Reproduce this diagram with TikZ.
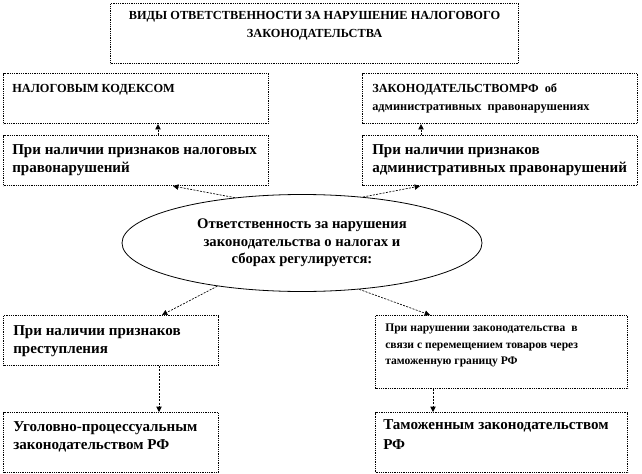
\documentclass[tikz,border=0pt]{standalone}
\usepackage{fontspec}
\setmainfont{Liberation Serif}
\usepackage{tikz}
\usetikzlibrary{arrows.meta,shapes.geometric}
\tikzset{
  frame box/.style n args={2}{
    rectangle, draw=black, dash pattern=on 0.75pt off 0.6pt, line width=0.8pt,
    minimum width=#1, minimum height=#2,
    anchor=north west, inner sep=0pt
  },
  box text/.style={
    anchor=north west, align=left, inner sep=0pt,
    font=\bfseries\fontsize{11.3}{13.8}\selectfont
  },
  small text/.style={font=\bfseries\fontsize{9.25}{13.5}\selectfont},
  link arrow/.style={-{Triangle[length=4pt,width=4pt]},
    dash pattern=on 1.5pt off 1pt, line width=0.5pt}
}

\begin{document}
\begin{tikzpicture}[x=0.75pt, y=-0.75pt]
    \useasboundingbox (0,0) rectangle (642,474);
    % frames
    \node[frame box={306pt}{45pt}] (title) at (110,3) {};
    \node[frame box={198.75pt}{37.5pt}] (kodeks) at (3,73) {};
    \node[frame box={198.75pt}{37.5pt}] (nalog) at (3,135) {};
    \node[frame box={206.25pt}{37.5pt}] (koap) at (362,73) {};
    \node[frame box={206.25pt}{37.5pt}] (admin) at (362,135) {};
    \node[frame box={161.25pt}{37.5pt}] (crime) at (3,315) {};
    \node[frame box={161.25pt}{45pt}] (upk) at (3,412) {};
    \node[frame box={189pt}{54.75pt}] (customs) at (375,315) {};
    \node[frame box={189pt}{45pt}] (tk) at (375,412) {};
    \node[ellipse, draw, line width=0.6pt, minimum width=270pt,
      minimum height=72.75pt, inner sep=0pt, align=center,
      font=\bfseries\fontsize{11}{13.1}\selectfont] (regul) at (302,243)
      {Ответственность за нарушения\\законодательства о налогах и\\сборах регулируется:};
    % texts
    \node[box text, small text, anchor=north, align=center] (title-t)
      at ([shift={(0,8)}]title.north)
      {ВИДЫ ОТВЕТСТВЕННОСТИ ЗА НАРУШЕНИЕ НАЛОГОВОГО\\ЗАКОНОДАТЕЛЬСТВА};
    \node[box text, small text] (kodeks-t) at ([shift={(9,11)}]kodeks.north west)
      {НАЛОГОВЫМ КОДЕКСОМ};
    \node[box text] (nalog-t) at ([shift={(9,9)}]nalog.north west)
      {При наличии признаков налоговых\\правонарушений};
    \node[box text, small text] (koap-t) at ([shift={(10,10)}]koap.north west)
      {ЗАКОНОДАТЕЛЬСТВОМРФ\enspace об\\административных\enspace правонарушениях};
    \node[box text] (admin-t) at ([shift={(10,9)}]admin.north west)
      {При наличии признаков\\административных правонарушений};
    \node[box text] (crime-t) at ([shift={(10,10)}]crime.north west)
      {При наличии признаков\\преступления};
    \node[box text] (upk-t) at ([shift={(10,9)}]upk.north west)
      {Уголовно-процессуальным\\законодательством РФ};
    \node[box text, font=\bfseries\fontsize{8.7}{12.4}\selectfont] (customs-t)
      at ([shift={(10,9)}]customs.north west)
      {При нарушении законодательства\enspace в\\связи с перемещением товаров через\\таможенную границу РФ};
    \node[box text, font=\bfseries\fontsize{11.3}{15}\selectfont] (tk-t)
      at ([shift={(8,7)}]tk.north west)
      {Таможенным законодательством\\РФ};
    % arrows
    \draw[link arrow] (regul.146) -- ([shift={(170,0)}]nalog.south west);
    \draw[link arrow] (regul.37) -- ([shift={(58,0)}]admin.south west);
    \draw[link arrow] (regul.207) -- ([shift={(159,0)}]crime.north west);
    \draw[link arrow] (regul.321) -- ([shift={(55,0)}]customs.north west);
    \draw[link arrow] ([shift={(155,0)}]nalog.north west) -- ([shift={(155,0)}]kodeks.south west);
    \draw[link arrow] ([shift={(59,0)}]admin.north west) -- ([shift={(59,0)}]koap.south west);
    \draw[link arrow] ([shift={(156,0)}]crime.south west) -- ([shift={(156,0)}]upk.north west);
    \draw[link arrow] ([shift={(58,0)}]customs.south west) -- ([shift={(58,0)}]tk.north west);
\end{tikzpicture}
\end{document}
